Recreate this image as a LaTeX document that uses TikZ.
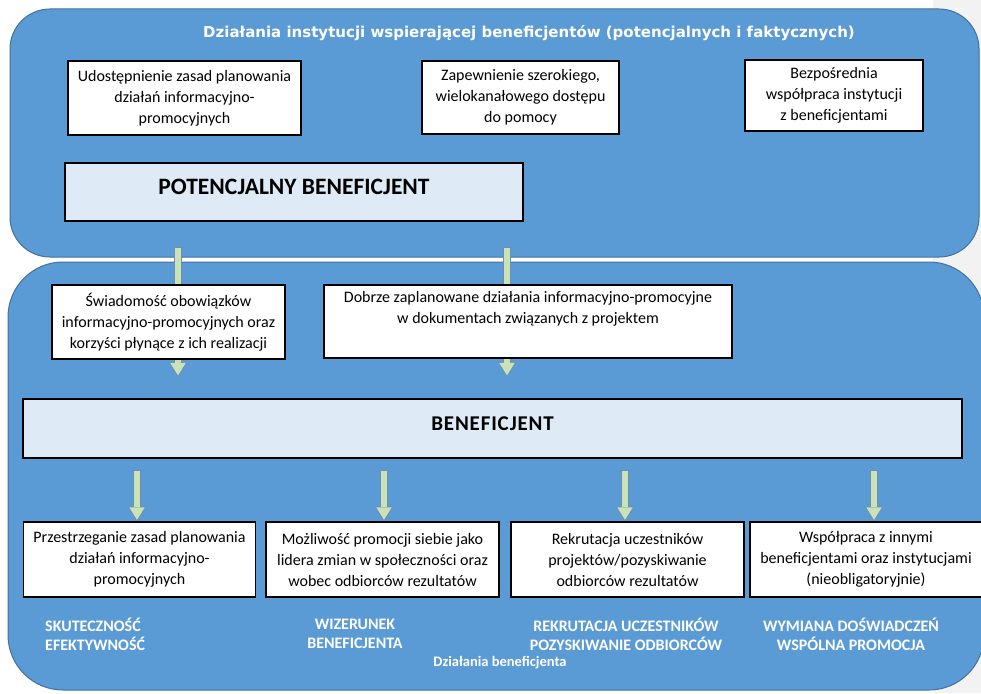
\documentclass[tikz,border=0pt]{standalone}
\usepackage{fontspec}
\setmainfont{Carlito}
\newfontfamily\titlefont{DejaVu Sans}
\usetikzlibrary{arrows.meta,positioning}

\definecolor{panelblue}{HTML}{5B9BD5}
\definecolor{paneledge}{HTML}{41719C}
\definecolor{bandblue}{HTML}{DEEBF7}
\definecolor{arrowgreen}{HTML}{C9E2B8}
\definecolor{arrowedge}{HTML}{6F8FAF}
\definecolor{sidegrey}{HTML}{F2F2F2}

\begin{document}
\begin{tikzpicture}[x=1pt,y=-1pt,font=\fontsize{16}{21}\selectfont]
  %----- styles
  \tikzset{
    panel/.style ={draw=paneledge,fill=panelblue,line width=1pt},
    card/.style  ={draw=black,fill=white,line width=1.2pt,align=center,inner sep=0pt},
    band/.style  ={draw=black,fill=bandblue,line width=1.4pt,align=center,inner sep=0pt,
                   font=\fontsize{23.5}{26}\selectfont\bfseries},
    tag/.style   ={text=white,align=center,inner sep=0pt,font=\fontsize{16}{19}\selectfont\bfseries},
    garrow/.style={draw=arrowedge,line width=7.5pt,-{Triangle[width=18.5pt,length=15pt,line width=0pt]},
                   postaction={draw=arrowgreen,line width=5.5pt,
                   -{Triangle[width=15.5pt,length=12.5pt,line width=0pt]},shorten >=1.6pt,shorten <=1pt}}
  }

  %==================== BACKGROUND ====================
  \useasboundingbox (0,0) rectangle (981,693);
  \fill[sidegrey] (933,0) rectangle (981,693);
  \draw[panel,rounded corners=40pt] (10,9) rectangle (979,257);
  \draw[panel,rounded corners=55pt] (8,262) rectangle (984,690);

  %----- arrow columns
  \def\xP{178}   % left arrow from the institution panel
  \def\xQ{507}   % right arrow from the institution panel
  \def\xA{137}
  \def\xB{384}
  \def\xC{625}
  \def\xD{874}

  %----- institution panel
  \node[tag,font=\titlefont\fontsize{15}{18}\selectfont\bfseries] (title) at (529,33)
    {Działania instytucji wspierającej beneficjentów (potencjalnych i faktycznych)};
  \node[card,minimum width=233pt,minimum height=74pt] (share) at (184.5,98)
    {Udostępnienie zasad planowania\\działań informacyjno-\\promocyjnych};
  \node[card,minimum width=197pt,minimum height=73pt] (access) at (520.5,97.5)
    {Zapewnienie szerokiego,\\wielokanałowego dostępu\\do pomocy};
  \node[card,minimum width=178pt,minimum height=71pt] (direct) at (834,95.5)
    {Bezpośrednia\\współpraca instytucji\\z beneficjentami};
  \node[band,minimum width=458pt,minimum height=58pt] (potential) at (294,192)
    {\raisebox{5pt}[\height][\depth]{POTENCJALNY BENEFICJENT}};

  %----- arrows into the beneficiary panel
  \coordinate (p1) at (\xP,247);
  \coordinate (p2) at (\xQ,247);
  \coordinate (q1) at (\xP,377);
  \coordinate (q2) at (\xQ,377);
  \draw[garrow] (p1) -- (q1);
  \draw[garrow] (p2) -- (q2);

  %----- beneficiary panel
  \node[card,minimum width=233pt,minimum height=74pt] (aware) at (168.5,322)
    {Świadomość obowiązków\\informacyjno-promocyjnych oraz\\korzyści płynące z ich realizacji};
  \node[card,minimum width=408pt,minimum height=73pt] (planned) at (528,321.5)
    {Dobrze zaplanowane działania informacyjno-promocyjne\\w dokumentach związanych z projektem\\\strut};
  \node[band,minimum width=939pt,minimum height=59pt,
        font=\fontsize{21}{24}\selectfont\bfseries\addfontfeature{LetterSpace=4}]
    (benef) at (492.5,428.5) {\raisebox{5pt}[\height][\depth]{BENEFICJENT}};

  \node[card,minimum width=232pt,minimum height=75pt] (rules) at (139.5,559.5)
    {Przestrzeganie zasad planowania\\działań informacyjno-\\promocyjnych};
  \node[card,minimum width=233pt,minimum height=75pt] (image) at (382.5,559.5)
    {Możliwość promocji siebie jako\\lidera zmian w społeczności oraz\\wobec odbiorców rezultatów};
  \node[card,minimum width=233pt,minimum height=75pt] (recruit) at (627.5,559.5)
    {Rekrutacja uczestników\\projektów/pozyskiwanie\\odbiorców rezultatów};
  \node[card,minimum width=232pt,minimum height=75pt] (coop) at (866,559.5)
    {Współpraca z innymi\\beneficjentami oraz instytucjami\\(nieobligatoryjnie)};

  %----- arrows from the beneficiary
  \coordinate (a1) at (\xA,470);
  \coordinate (a2) at (\xB,470);
  \coordinate (a3) at (\xC,470);
  \coordinate (a4) at (\xD,470);
  \draw[garrow] (a1) -- (a1 |- rules.north);
  \draw[garrow] (a2) -- (a2 |- image.north);
  \draw[garrow] (a3) -- (a3 |- recruit.north);
  \draw[garrow] (a4) -- (a4 |- coop.north);

  %----- outcomes
  \node[tag,align=left,anchor=west] (effect) at (45,634) {SKUTECZNOŚĆ\\EFEKTYWNOŚĆ};
  \node[tag] (brand) at (355,634) {WIZERUNEK\\BENEFICJENTA};
  \node[tag] (reach) at (626,634) {REKRUTACJA UCZESTNIKÓW\\POZYSKIWANIE ODBIORCÓW};
  \node[tag] (share2) at (851,634) {WYMIANA DOŚWIADCZEŃ\\WSPÓLNA PROMOCJA};
  \node[tag,font=\fontsize{14.5}{16}\selectfont\bfseries] (caption) at (500,663) {Działania beneficjenta};

\end{tikzpicture}
\end{document}
